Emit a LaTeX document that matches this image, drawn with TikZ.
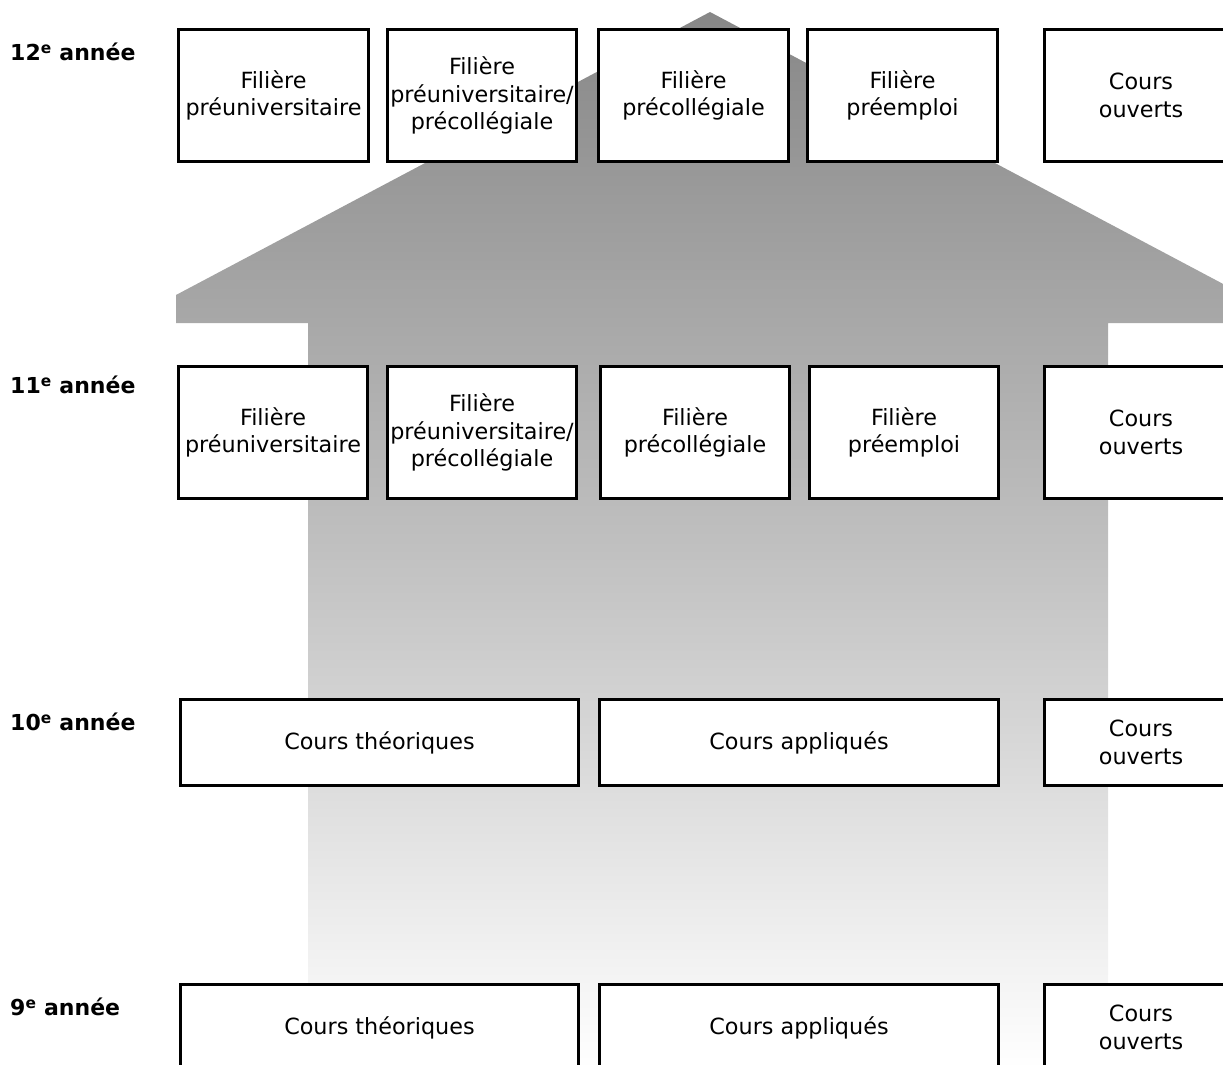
\documentclass[tikz,border=0pt]{standalone}
\usepackage{fontspec}
\setmainfont{DejaVu Sans}
\begin{document}
\begin{tikzpicture}[x=1pt,y=-1pt,
  box/.style={draw, line width=3pt, fill=white, inner sep=0pt, align=center,
    font=\fontsize{22.3}{27.5}\selectfont},
  yr/.style={anchor=west, inner sep=0pt, font=\fontsize{22}{26}\selectfont\bfseries}]
\useasboundingbox (0,0) rectangle (1223,1065);
\begin{scope}
\clip (0,0) rectangle (1223,1065);
% big arrow
\shade[top color=black!47, bottom color=white, middle color=black!25]
  (710,12) -- (176,295) -- (176,323) -- (308,323) -- (308,1070)
  -- (1108,1070) -- (1108,323) -- (1244,323) -- (1244,295) -- cycle;
% 12e annee
\node[box, minimum width=190pt, minimum height=132pt] (a1) at (273.5,95.5) {Filière\\préuniversitaire};
\node[box, minimum width=189pt, minimum height=132pt] (a2) at (482,95.5) {Filière\\préuniversitaire/\\précollégiale};
\node[box, minimum width=190pt, minimum height=132pt] (a3) at (693.5,95.5) {Filière\\précollégiale};
\node[box, minimum width=190pt, minimum height=132pt] (a4) at (902.5,95.5) {Filière\\préemploi};
\node[box, minimum width=193pt, minimum height=132pt] (a5) at (1141,95.5) {Cours\\ouverts};
% 11e annee
\node[box, minimum width=189pt, minimum height=132pt] (b1) at (273,432.5) {Filière\\préuniversitaire};
\node[box, minimum width=189pt, minimum height=132pt] (b2) at (482,432.5) {Filière\\préuniversitaire/\\précollégiale};
\node[box, minimum width=189pt, minimum height=132pt] (b3) at (695,432.5) {Filière\\précollégiale};
\node[box, minimum width=189pt, minimum height=132pt] (b4) at (904,432.5) {Filière\\préemploi};
\node[box, minimum width=193pt, minimum height=132pt] (b5) at (1141,432.5) {Cours\\ouverts};
% 10e annee
\node[box, minimum width=398pt, minimum height=86pt] (c1) at (379.5,742.5) {Cours théoriques};
\node[box, minimum width=399pt, minimum height=86pt] (c2) at (799,742.5) {Cours appliqués};
\node[box, minimum width=193pt, minimum height=86pt] (c3) at (1141,742.5) {Cours\\ouverts};
% 9e annee
\node[box, minimum width=398pt, minimum height=86pt] (d1) at (379.5,1027.5) {Cours théoriques};
\node[box, minimum width=399pt, minimum height=86pt] (d2) at (799,1027.5) {Cours appliqués};
\node[box, minimum width=193pt, minimum height=86pt] (d3) at (1141,1027.5) {Cours\\ouverts};
\end{scope}
% year labels
\node[yr] (l12) at (10,52) {12\textsuperscript{e} année};
\node[yr] (l11) at (10,385) {11\textsuperscript{e} année};
\node[yr] (l10) at (10,722) {10\textsuperscript{e} année};
\node[yr] (l9) at (10,1007) {9\textsuperscript{e} année};
\end{tikzpicture}
\end{document}
